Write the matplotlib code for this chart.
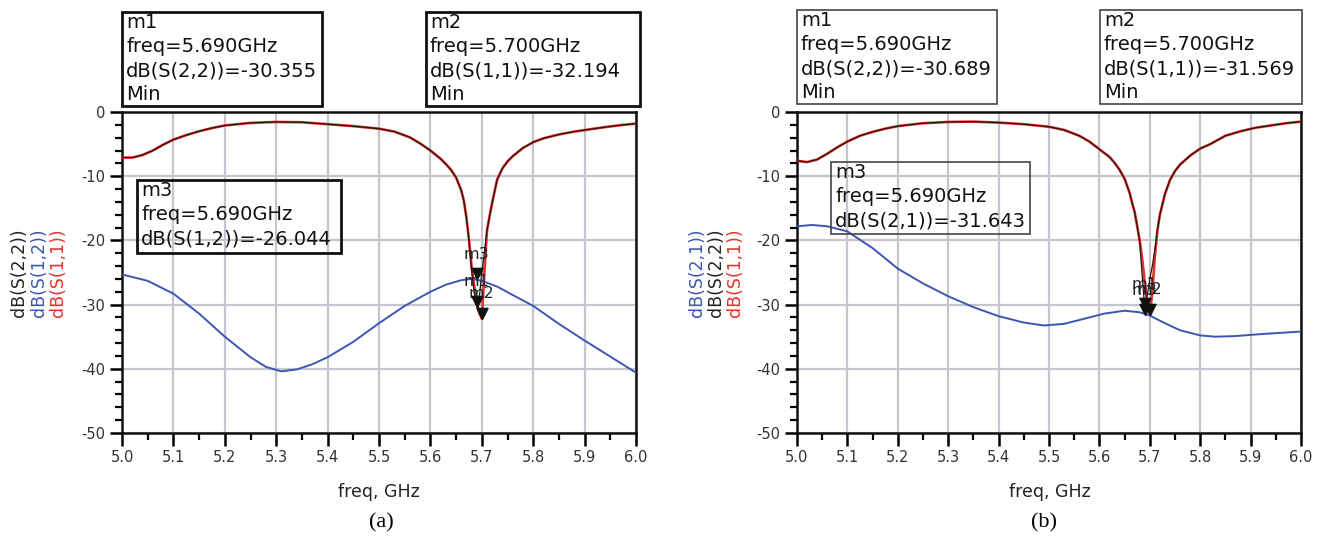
import matplotlib.pyplot as plt
from matplotlib.patches import Rectangle
from matplotlib.path import Path
from matplotlib.ticker import MultipleLocator

W, H = 1327, 540

# ---- data ----
freq_r = [5.00, 5.02, 5.04, 5.06, 5.08, 5.10, 5.125, 5.15, 5.175, 5.20, 5.25, 5.30,
          5.35, 5.40, 5.45, 5.50, 5.53, 5.56, 5.58, 5.60, 5.62, 5.63, 5.64, 5.65,
          5.66, 5.665, 5.67, 5.675, 5.68, 5.685, 5.69, 5.695, 5.70, 5.705, 5.71, 5.715,
          5.72, 5.73, 5.74, 5.75, 5.76, 5.78, 5.80, 5.82, 5.85, 5.88, 5.91, 5.94,
          5.97, 6.00]

# panel (a)
s11_a = [-7.1, -7.1, -6.7, -6.0, -5.1, -4.3, -3.6, -3.0, -2.5, -2.1, -1.7, -1.55,
         -1.6, -1.9, -2.2, -2.6, -3.05, -3.95, -4.9, -6.0, -7.3, -8.1, -9.0, -10.2,
         -12.2, -13.8, -16.4, -19.8, -24.0, -27.0, -29.5, -31.3, -32.194, -25.0, -18.5, -16.3,
         -14.2, -10.5, -8.8, -7.7, -6.9, -5.6, -4.7, -4.1, -3.5, -3.05, -2.7, -2.35,
         -2.05, -1.8]
s22_a = [-7.1, -7.1, -6.7, -6.0, -5.1, -4.3, -3.6, -3.0, -2.5, -2.1, -1.7, -1.55,
         -1.6, -1.9, -2.2, -2.6, -3.05, -3.95, -4.9, -6.0, -7.3, -8.1, -9.0, -10.2,
         -12.2, -13.8, -16.4, -20.0, -24.5, -28.0, -30.355, -29.0, -25.0, -22.0, -18.5, -16.3,
         -14.2, -10.5, -8.8, -7.7, -6.9, -5.6, -4.7, -4.1, -3.5, -3.05, -2.7, -2.35,
         -2.05, -1.8]
freq_t_a = [5.00, 5.05, 5.10, 5.15, 5.20, 5.25, 5.28, 5.31, 5.34, 5.37, 5.40, 5.45,
            5.50, 5.55, 5.60, 5.63, 5.66, 5.68, 5.70, 5.73, 5.76, 5.80, 5.85, 5.90,
            5.95, 6.00]
s12_a = [-25.3, -26.3, -28.3, -31.4, -35.0, -38.2, -39.7, -40.4, -40.1, -39.3, -38.2, -35.8,
         -32.9, -30.2, -28.0, -26.9, -26.2, -26.0, -26.3, -27.2, -28.5, -30.2, -33.0, -35.6,
         -38.1, -40.6]

# panel (b)
s11_b = [-7.6, -7.8, -7.4, -6.5, -5.5, -4.6, -3.7, -3.1, -2.6, -2.2, -1.75, -1.55,
         -1.5, -1.65, -1.9, -2.3, -2.8, -3.7, -4.6, -5.8, -7.0, -7.9, -9.0, -10.4,
         -12.6, -14.2, -15.6, -17.8, -20.0, -23.0, -26.5, -30.0, -31.569, -28.0, -22.5, -18.5,
         -16.0, -12.8, -10.6, -9.2, -8.2, -6.8, -5.7, -5.0, -3.7, -3.0, -2.45, -2.1,
         -1.75, -1.5]
s22_b = [-7.6, -7.8, -7.4, -6.5, -5.5, -4.6, -3.7, -3.1, -2.6, -2.2, -1.75, -1.55,
         -1.5, -1.65, -1.9, -2.3, -2.8, -3.7, -4.6, -5.8, -7.0, -7.9, -9.0, -10.4,
         -12.6, -14.2, -15.6, -17.8, -20.3, -25.5, -30.689, -28.5, -26.0, -24.0, -21.5, -18.5,
         -16.0, -12.8, -10.6, -9.2, -8.2, -6.8, -5.7, -5.0, -3.7, -3.0, -2.45, -2.1,
         -1.75, -1.5]
freq_t_b = [5.00, 5.03, 5.06, 5.10, 5.15, 5.20, 5.25, 5.30, 5.35, 5.40, 5.45, 5.49,
            5.53, 5.57, 5.61, 5.65, 5.68, 5.70, 5.73, 5.76, 5.80, 5.83, 5.87, 5.92,
            5.96, 6.00]
s21_b = [-17.8, -17.6, -17.8, -18.6, -21.2, -24.4, -26.7, -28.7, -30.4, -31.8, -32.8, -33.25,
         -33.0, -32.2, -31.4, -30.95, -31.2, -31.7, -32.9, -34.0, -34.8, -35.0, -34.9, -34.6,
         -34.4, -34.2]

x_ticks = [5.0, 5.1, 5.2, 5.3, 5.4, 5.5, 5.6, 5.7, 5.8, 5.9, 6.0]
y_ticks = [0, -10, -20, -30, -40, -50]

markers_a = [("m1", 5.69, -30.355), ("m2", 5.70, -32.194), ("m3", 5.69, -26.044)]
markers_b = [("m1", 5.69, -30.689), ("m2", 5.70, -31.569), ("m3", 5.69, -31.643)]

boxes_a = [(122, 12, 322, 106, ["m1", "freq=5.690GHz", "dB(S(2,2))=-30.355", "Min"]),
           (426, 12, 640, 106, ["m2", "freq=5.700GHz", "dB(S(1,1))=-32.194", "Min"]),
           (137, 180, 341, 253, ["m3", "freq=5.690GHz", "dB(S(1,2))=-26.044"])]
boxes_b = [(797, 10, 997, 104, ["m1", "freq=5.690GHz", "dB(S(2,2))=-30.689", "Min"]),
           (1100, 10, 1302, 104, ["m2", "freq=5.700GHz", "dB(S(1,1))=-31.569", "Min"]),
           (831, 162, 1030, 234, ["m3", "freq=5.690GHz", "dB(S(2,1))=-31.643"])]

RED = "#e8302a"
DARK = "#2a1410"
BLUE = "#3d56b2"
GRID = "#c3c6cf"

plt.rcParams['font.family'] = ['DejaVu Sans']
plt.rcParams['axes.unicode_minus'] = False

fig = plt.figure(figsize=(W / 100, H / 100), dpi=100)

# triangle with its tip at the data point
tri = Path([(-0.5, 1.0), (0.5, 1.0), (0.0, 0.0), (-0.5, 1.0)],
           [Path.MOVETO, Path.LINETO, Path.LINETO, Path.CLOSEPOLY])


def fx(px):
    return px / W


def fy(py):
    return 1 - py / H


def make_axes(x0, y0, x1, y1):
    ax = fig.add_axes([fx(x0), fy(y1), fx(x1) - fx(x0), fy(y0) - fy(y1)])
    ax.set_xlim(5.0, 6.0)
    ax.set_ylim(-50, 0)
    ax.set_xticks(x_ticks)
    ax.set_xticklabels([f"{t:.1f}" for t in x_ticks])
    ax.set_yticks(y_ticks)
    ax.xaxis.set_minor_locator(MultipleLocator(0.05))
    ax.yaxis.set_minor_locator(MultipleLocator(2))
    ax.grid(True, which='major', color=GRID, linewidth=1.6)
    ax.set_axisbelow(True)
    ax.tick_params(which='major', direction='out', length=9, width=1.8,
                   labelsize=10.5, labelcolor='#333333', pad=3)
    ax.tick_params(which='minor', direction='out', length=5, width=1.6)
    for s in ax.spines.values():
        s.set_color('#111111')
        s.set_linewidth(1.8)
    return ax


def draw_box(x0, y0, x1, y1, lines, lw, ec):
    fig.patches.append(Rectangle((fx(x0), fy(y1)), fx(x1) - fx(x0), fy(y0) - fy(y1),
                                 transform=fig.transFigure, fill=False,
                                 edgecolor=ec, linewidth=lw))
    for i, t in enumerate(lines):
        fig.text(fx(x0 + 4), fy(y0 + 10 + 24.3 * i), t, fontsize=14,
                 va='center', ha='left', color='#111111')


def draw_markers(ax, marks):
    for name, f, v in marks:
        ax.plot(f, v, marker=tri, markersize=16, color='#111111', zorder=6)
        ax.annotate(name, (f, v), xytext=(0, 18), textcoords='offset points',
                    ha='center', va='center', fontsize=11.5, color='#222222', zorder=7)


# ---- panel (a) ----
ax1 = make_axes(122, 112, 636, 433)
ax1.plot(freq_r, s11_a, color=RED, linewidth=1.9, zorder=3)
ax1.plot(freq_r, s22_a, color=DARK, linewidth=0.9, zorder=4)
ax1.plot(freq_t_a, s12_a, color=BLUE, linewidth=1.4, zorder=3)
draw_markers(ax1, markers_a)
for x0, y0, x1, y1, lines in boxes_a:
    draw_box(x0, y0, x1, y1, lines, 2.0, '#111111')

for xp, lab, c in [(19, "dB(S(2,2))", '#222222'), (39, "dB(S(1,2))", BLUE),
                   (58, "dB(S(1,1))", RED)]:
    fig.text(fx(xp), fy(273), lab, rotation=90, fontsize=12.5, color=c,
             ha='center', va='center')
fig.text(fx(379), fy(492), "freq, GHz", fontsize=12.5, ha='center', va='center',
         color='#222222')
fig.text(fx(381), fy(523), "(a)", fontsize=16, ha='center', va='center',
         family='Liberation Serif')

# ---- panel (b) ----
ax2 = make_axes(797, 112, 1301, 433)
ax2.plot(freq_r, s11_b, color=RED, linewidth=1.9, zorder=3)
ax2.plot(freq_r, s22_b, color=DARK, linewidth=0.9, zorder=4)
ax2.plot(freq_t_b, s21_b, color=BLUE, linewidth=1.4, zorder=3)
draw_markers(ax2, markers_b)
for x0, y0, x1, y1, lines in boxes_b:
    draw_box(x0, y0, x1, y1, lines, 1.2, '#444444')

for xp, lab, c in [(697, "dB(S(2,1))", BLUE), (716, "dB(S(2,2))", '#222222'),
                   (735, "dB(S(1,1))", RED)]:
    fig.text(fx(xp), fy(273), lab, rotation=90, fontsize=12.5, color=c,
             ha='center', va='center')
fig.text(fx(1050), fy(492), "freq, GHz", fontsize=12.5, ha='center', va='center',
         color='#222222')
fig.text(fx(1044), fy(523), "(b)", fontsize=16, ha='center', va='center',
         family='Liberation Serif')

fig.savefig("out.png", dpi=100)
